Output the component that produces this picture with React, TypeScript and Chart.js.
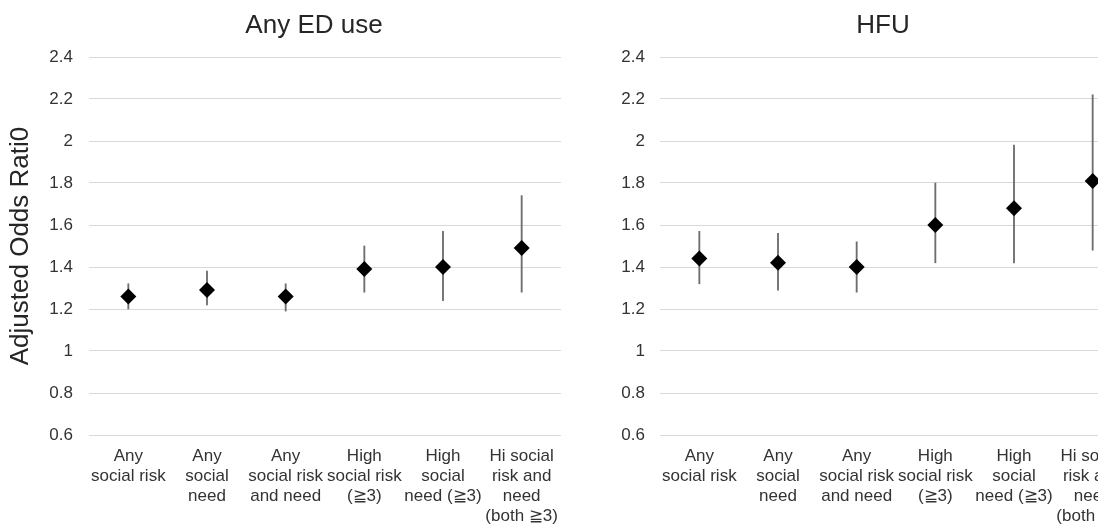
import React, { useEffect, useRef } from "react";
import { Chart, registerables } from "chart.js";

Chart.register(...registerables);

// ---- Data ----
const categories: string[][] = [
  ["Any", "social risk"],
  ["Any", "social", "need"],
  ["Any", "social risk", "and need"],
  ["High", "social risk", "(≧3)"],
  ["High", "social", "need (≧3)"],
  ["Hi social", "risk and", "need", "(both ≧3)"],
];

const yTickValues = [0.6, 0.8, 1, 1.2, 1.4, 1.6, 1.8, 2, 2.2, 2.4];
const yTickLabels = ["0.6", "0.8", "1", "1.2", "1.4", "1.6", "1.8", "2", "2.2", "2.4"];

const edOddsRatio = [1.26, 1.29, 1.26, 1.39, 1.4, 1.49];
const edLower = [1.2, 1.22, 1.19, 1.28, 1.24, 1.28];
const edUpper = [1.32, 1.38, 1.32, 1.5, 1.57, 1.74];

const hfuOddsRatio = [1.44, 1.42, 1.4, 1.6, 1.68, 1.81];
const hfuLower = [1.32, 1.29, 1.28, 1.42, 1.42, 1.48];
const hfuUpper = [1.57, 1.56, 1.52, 1.8, 1.98, 2.22];

const FONT = "'Liberation Sans', Arial, Helvetica, sans-serif";
const TEXT = "#262626";
const TICK = "#333333";

type PanelProps = {
  title: string;
  yTitle?: string;
  or: number[];
  lower: number[];
  upper: number[];
  left: number;
  width: number;
  yWidth: number;
  rightWidth: number;
  tickPad: number;
};

function Panel(p: PanelProps) {
  const ref = useRef<HTMLCanvasElement | null>(null);
  useEffect(() => {
    if (!ref.current) return;
    const chart = new Chart(ref.current, {
      type: "bar",
      data: {
        labels: categories,
        datasets: [
          {
            type: "line",
            data: p.or,
            showLine: false,
            pointStyle: "rectRot",
            pointRadius: 8,
            pointHoverRadius: 8,
            pointBackgroundColor: "#000000",
            pointBorderColor: "#000000",
            pointBorderWidth: 0,
            order: 0,
            yAxisID: "y",
          } as any,
          {
            type: "bar",
            data: p.lower.map((l, i) => [l, p.upper[i]]),
            backgroundColor: "#6e6e6e",
            barThickness: 1.2,
            order: 1,
            yAxisID: "y",
          } as any,
        ],
      },
      options: {
        animation: false,
        responsive: false,
        layout: { padding: 0 },
        plugins: {
          legend: { display: false },
          tooltip: { enabled: false },
          title: {
            display: true,
            text: p.title,
            color: TEXT,
            font: { family: FONT, size: 26, weight: "normal" as any, lineHeight: 1.2 },
            padding: { top: 10.4, bottom: 15.4 },
          },
        },
        scales: {
          x: {
            type: "category",
            offset: true,
            grid: { display: false, drawTicks: false },
            border: { display: false },
            ticks: {
              autoSkip: false,
              maxRotation: 0,
              minRotation: 0,
              padding: 11,
              color: TICK,
              font: { family: FONT, size: 17, lineHeight: 20 / 17 },
            },
            afterFit: (s: any) => {
              s.height = 91;
            },
          },
          y: {
            type: "linear",
            position: "left",
            min: 0.6,
            max: 2.4,
            afterBuildTicks: (s: any) => {
              s.ticks = yTickValues.map((v) => ({ value: v }));
            },
            grid: { color: "#d9d9d9", lineWidth: 1, drawTicks: false },
            border: { display: false },
            ticks: {
              padding: p.tickPad,
              color: TICK,
              font: { family: FONT, size: 17 },
              callback: (_v: any, i: number) => yTickLabels[i],
            },
            title: p.yTitle
              ? {
                  display: true,
                  text: p.yTitle,
                  color: TEXT,
                  font: { family: FONT, size: 26, weight: "normal" as any, lineHeight: 1.2 },
                  padding: { top: 5, bottom: 0 },
                }
              : { display: false },
            afterFit: (s: any) => {
              s.width = p.yWidth;
            },
          },
          ySpace: {
            type: "linear",
            position: "right",
            display: true,
            grid: { display: false, drawTicks: false },
            border: { display: false },
            ticks: { display: false },
            afterFit: (s: any) => {
              s.width = p.rightWidth;
            },
          },
        },
      } as any,
    });
    return () => chart.destroy();
  }, []);
  return (
    <canvas
      ref={ref}
      width={p.width}
      height={526}
      style={{ position: "absolute", left: p.left, top: 0, width: p.width, height: 526, display: "block" }}
    />
  );
}

export default function App() {
  return (
    <div
      style={{
        position: "fixed",
        left: 0,
        top: 0,
        width: 1098,
        height: 526,
        overflow: "hidden",
        background: "#ffffff",
      }}
    >
      <Panel
        title="Any ED use"
        yTitle="Adjusted Odds Rati0"
        or={edOddsRatio}
        lower={edLower}
        upper={edUpper}
        left={0}
        width={628}
        yWidth={89}
        rightWidth={67}
        tickPad={16}
      />
      <Panel
        title="HFU"
        or={hfuOddsRatio}
        lower={hfuLower}
        upper={hfuUpper}
        left={600}
        width={566}
        yWidth={60}
        rightWidth={34}
        tickPad={15}
      />
    </div>
  );
}
